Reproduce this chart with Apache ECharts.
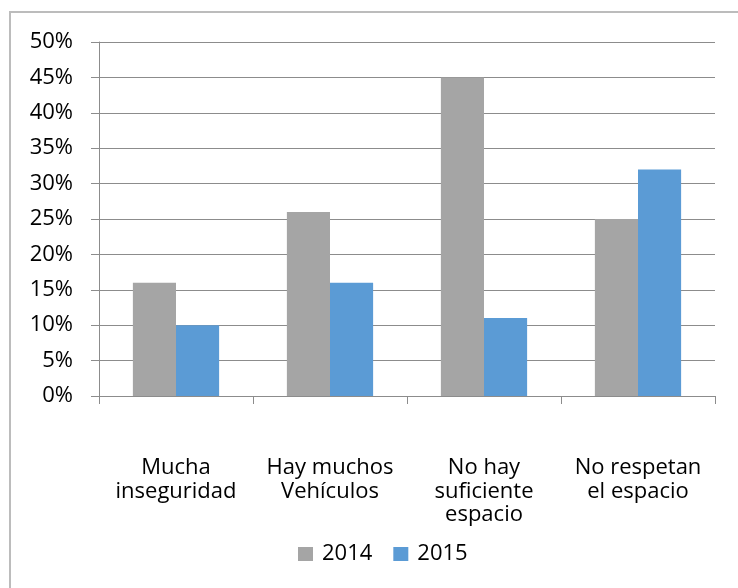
<!DOCTYPE html>
<html>
<head>
<meta charset="utf-8">
<script src="https://cdn.jsdelivr.net/npm/echarts@6/dist/echarts.min.js"></script>
<style>
  html, body { margin: 0; padding: 0; background: #fff; }
  #chart { width: 738px; height: 588px; }
</style>
</head>
<body>
<div id="chart"></div>
<script>
// Motivos señalados, por año
const categories = ['Mucha\ninseguridad', 'Hay muchos\nVehículos', 'No hay\nsuficiente\nespacio', 'No respetan\nel espacio'];
const years = ['2014', '2015'];
const values2014 = [16, 26, 45, 25];
const values2015 = [10, 16, 11, 32];
const yTicks = [0, 5, 10, 15, 20, 25, 30, 35, 40, 45, 50];

const FONT = '"Open Sans", sans-serif';
const GRID_COLOR = '#8c8c8c';

const chart = echarts.init(document.getElementById('chart'), null, { renderer: 'canvas' });

chart.setOption({
  animation: false,
  backgroundColor: '#ffffff',
  graphic: [
    {
      type: 'polyline',
      shape: { points: [[10, 600], [10, 12], [740, 12]] },
      style: { stroke: '#bcbcbc', lineWidth: 2, fill: null },
      silent: true
    }
  ],
  grid: { left: 99, right: 23, top: 42, bottom: 192, containLabel: false },
  legend: {
    data: years,
    top: 538,
    left: 293,
    itemWidth: 15,
    itemHeight: 14,
    itemGap: 21,
    icon: 'rect',
    textStyle: { fontFamily: FONT, fontSize: 22, color: '#000', padding: [0, 0, 0, 4] }
  },
  xAxis: {
    type: 'category',
    data: categories,
    axisLine: { show: true, lineStyle: { color: GRID_COLOR, width: 1 } },
    axisTick: { show: true, length: 8, alignWithLabel: false, lineStyle: { color: GRID_COLOR } },
    axisLabel: {
      margin: 60,
      interval: 0,
      fontFamily: FONT,
      fontSize: 22,
      lineHeight: 23.5,
      color: '#000',
      verticalAlign: 'top'
    }
  },
  yAxis: {
    type: 'value',
    min: yTicks[0],
    max: yTicks[yTicks.length - 1],
    interval: 5,
    axisLine: { show: true, lineStyle: { color: GRID_COLOR, width: 1 } },
    axisTick: { show: true, length: 8, lineStyle: { color: GRID_COLOR } },
    splitLine: { show: true, lineStyle: { color: GRID_COLOR, width: 1 } },
    axisLabel: {
      margin: 26,
      fontFamily: FONT,
      fontSize: 22,
      color: '#000',
      formatter: v => v + '%'
    }
  },
  series: [
    {
      name: years[0],
      type: 'bar',
      data: values2014,
      barGap: '0%',
      barCategoryGap: '44%',
      itemStyle: { color: '#a5a5a5' }
    },
    {
      name: years[1],
      type: 'bar',
      data: values2015,
      barGap: '0%',
      barCategoryGap: '44%',
      itemStyle: { color: '#5b9bd5' }
    }
  ]
});
</script>
</body>
</html>
